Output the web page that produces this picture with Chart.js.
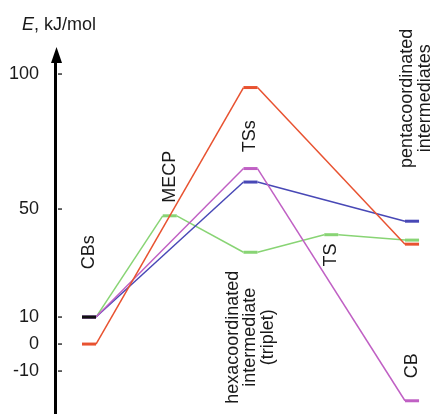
<!DOCTYPE html>
<html>
<head>
<meta charset="utf-8">
<script src="https://cdn.jsdelivr.net/npm/chart.js@4.4.1/dist/chart.umd.min.js"></script>
<style>
  body { margin: 0; background: #fff; }
</style>
</head>
<body>
<canvas id="energy-chart" width="431" height="414"></canvas>
<script>
const tickValues = [-10, 0, 10, 50, 100];

// stage index: 0 CBs, 1 MECP, 2 TSs / hexacoord., 3 TS, 4 pentacoord. / CB
const blackStages = [0];
const blackEnergy = [10];
const redStages = [0, 2, 4];
const redEnergy = [0, 95, 37];
const blueStages = [0, 2, 4];
const blueEnergy = [10, 60, 45.5];
const purpleStages = [0, 2, 4];
const purpleEnergy = [10, 65, -21];
const greenStages = [0, 1, 2, 3, 4];
const greenEnergy = [10, 47.5, 34, 40.5, 38.5];

const labelTexts = [
    ['CBs'], ['MECP'], ['TSs'],
    ['hexacoordinated', 'intermediate', '(triplet)'],
    ['TS'], ['CB'], ['pentacoordinated', 'intermediates']
];
const labelStages = [0, 1, 2, 2, 3, 4, 4.05];
const labelEnergy = [34, 62, 77, 2.5, 33, -8, 91];

const FONT = '"Liberation Sans", Arial, sans-serif';
const HALF = 0.087;

// each level becomes a short flat piece, then a thin line to the next one
function levels(stages, energy) {
    const pts = [];
    stages.forEach((s, i) => {
        pts.push({x: s - HALF, y: energy[i]});
        pts.push({x: s + HALF, y: energy[i]});
    });
    return pts;
}

function series(stages, energy, color) {
    return {
        data: levels(stages, energy),
        borderColor: color,
        pointRadius: 0,
        tension: 0,
        segment: {
            borderWidth: c => (c.p0DataIndex % 2 === 0 ? 3 : 1.5)
        }
    };
}

const extras = {
    id: 'extras',
    afterDraw(chart) {
        const ctx = chart.ctx;
        const xs = chart.scales.x, ys = chart.scales.y;
        const ax = chart.chartArea.left + 1.5;
        ctx.save();
        // arrow head
        ctx.fillStyle = '#000';
        ctx.beginPath();
        ctx.moveTo(ax, 47);
        ctx.lineTo(ax + 5.5, 63);
        ctx.lineTo(ax - 5.5, 63);
        ctx.closePath();
        ctx.fill();
        // small ticks inside the axis
        ctx.strokeStyle = '#333';
        ctx.lineWidth = 1.5;
        tickValues.forEach(v => {
            const y = ys.getPixelForValue(v);
            ctx.beginPath();
            ctx.moveTo(ax + 1.5, y);
            ctx.lineTo(ax + 5.5, y);
            ctx.stroke();
        });
        // axis title
        ctx.fillStyle = '#1a1a1a';
        ctx.textBaseline = 'alphabetic';
        ctx.textAlign = 'left';
        ctx.font = 'italic 18px ' + FONT;
        ctx.fillText('E', 22, 30);
        const w = ctx.measureText('E').width;
        ctx.font = '18px ' + FONT;
        ctx.fillText(', kJ/mol', 22 + w, 30);
        // stage labels, rotated
        ctx.textAlign = 'center';
        ctx.textBaseline = 'middle';
        labelTexts.forEach((lines, i) => {
            const x = xs.getPixelForValue(labelStages[i]);
            const y = ys.getPixelForValue(labelEnergy[i]);
            ctx.save();
            ctx.translate(x, y);
            ctx.rotate(-Math.PI / 2);
            lines.forEach((t, j) => {
                ctx.fillText(t, 0, (j - (lines.length - 1) / 2) * 17.5);
            });
            ctx.restore();
        });
        ctx.restore();
    }
};

new Chart(document.getElementById('energy-chart'), {
    type: 'line',
    data: {
        datasets: [
            series(blackStages, blackEnergy, '#111'),
            series(redStages, redEnergy, 'rgb(232, 82, 48)'),
            series(purpleStages, purpleEnergy, 'rgb(192, 96, 196)'),
            series(blueStages, blueEnergy, 'rgb(72, 72, 182)'),
            series(greenStages, greenEnergy, 'rgb(136, 212, 116)')
        ]
    },
    plugins: [extras],
    options: {
        responsive: false,
        animation: false,
        layout: {padding: {left: 0, top: 60, right: 0, bottom: 0}},
        plugins: {legend: {display: false}, tooltip: {enabled: false}},
        scales: {
            x: {type: 'linear', display: false, min: -0.421, max: 4.235},
            y: {
                min: -25.9,
                max: 105.2,
                afterBuildTicks: s => { s.ticks = tickValues.map(v => ({value: v})); },
                afterFit: s => { s.width = 55; s.paddingTop = 0; s.paddingBottom = 0; },
                grid: {display: false, drawTicks: false},
                border: {display: true, color: '#000', width: 3},
                ticks: {
                    crossAlign: 'near',
                    color: '#1a1a1a',
                    padding: 16,
                    font: {family: FONT, size: 18}
                }
            }
        }
    }
});
</script>
</body>
</html>
